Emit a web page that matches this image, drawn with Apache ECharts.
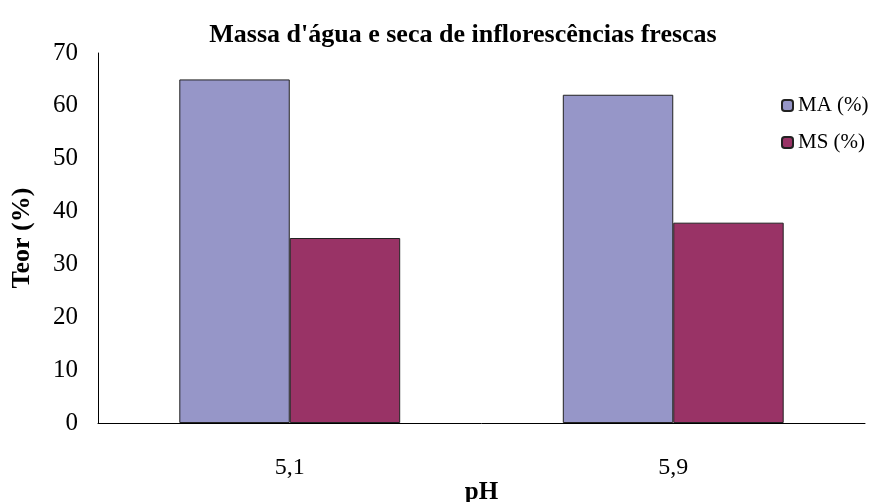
<!DOCTYPE html>
<html>
<head>
<meta charset="utf-8">
<script src="https://cdn.jsdelivr.net/npm/echarts@6/dist/echarts.min.js"></script>
<style>
  html, body { margin: 0; padding: 0; background: #fff; }
</style>
</head>
<body>
<div id="main" style="width:873px;height:502px;"></div>
<script>
    // dados
    var categorias = ['5,1', '5,9'];
    var maValores = [65.0, 62.1];
    var msValores = [35.0, 37.9];
    var yTicks = [0, 10, 20, 30, 40, 50, 60, 70];

    var fonte = '"Liberation Serif", "Times New Roman", serif';
    var myChart = echarts.init(document.getElementById('main'));

    var option = {
        animation: false,
        backgroundColor: '#fff',
        title: {
            text: "Massa d'água e seca de inflorescências frescas",
            left: 458,
            textAlign: 'center',
            top: 17,
            textStyle: {
                fontFamily: fonte,
                fontWeight: 'bold',
                fontSize: 26,
                color: '#000'
            }
        },
        legend: {
            orient: 'vertical',
            left: 781,
            top: 95,
            padding: 0,
            itemWidth: 11,
            itemHeight: 11,
            itemGap: 16,
            data: ['MA (%)', 'MS (%)'],
            textStyle: {
                fontFamily: fonte,
                fontSize: 21,
                color: '#000'
            }
        },
        grid: {
            left: 98,
            right: 8,
            top: 53,
            bottom: 79,
            outerBoundsMode: 'none',
            containLabel: false
        },
        xAxis: {
            type: 'category',
            data: categorias,
            name: 'pH',
            nameLocation: 'middle',
            nameMoveOverlap: false,
            nameGap: 57,
            nameTextStyle: {
                fontFamily: fonte,
                fontWeight: 'bold',
                fontSize: 25,
                color: '#000'
            },
            axisLine: { lineStyle: { color: '#000', width: 1 } },
            axisTick: { show: false },
            axisLabel: {
                margin: 33,
                fontFamily: fonte,
                fontSize: 24,
                color: '#000'
            }
        },
        yAxis: {
            type: 'value',
            min: yTicks[0],
            max: yTicks[yTicks.length - 1],
            interval: 10,
            name: 'Teor (%)',
            nameLocation: 'middle',
            nameMoveOverlap: false,
            nameGap: 63,
            nameTextStyle: {
                fontFamily: fonte,
                fontWeight: 'bold',
                fontSize: 26,
                color: '#000'
            },
            axisLine: { show: true, lineStyle: { color: '#000', width: 1 } },
            axisTick: { show: false },
            splitLine: { show: false },
            axisLabel: {
                margin: 20,
                fontFamily: fonte,
                fontSize: 25,
                color: '#000'
            }
        },
        series: [
            {
                name: 'MA (%)',
                type: 'bar',
                barWidth: '28.8%',
                barGap: '0%',
                itemStyle: {
                    color: '#9696C8',
                    borderColor: '#222',
                    borderWidth: 1
                },
                data: maValores
            },
            {
                name: 'MS (%)',
                type: 'bar',
                barWidth: '28.8%',
                itemStyle: {
                    color: '#993366',
                    borderColor: '#222',
                    borderWidth: 1
                },
                data: msValores
            }
        ]
    };
    myChart.setOption(option);
</script>
</body>
</html>
